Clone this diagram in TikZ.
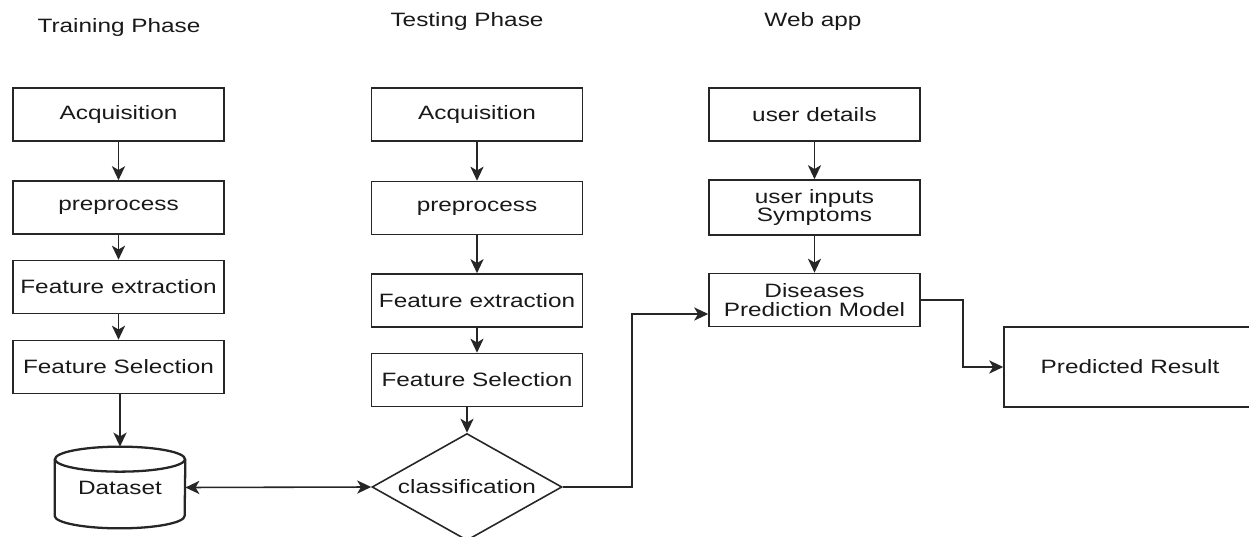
\documentclass[tikz,border=0pt]{standalone}
\usepackage{fontspec}
\setmainfont{Liberation Sans}[FakeStretch=1.26]
\usetikzlibrary{shapes.geometric,arrows.meta,calc}
\tikzset{
  lbl/.style={font=\fontsize{11}{10.8}\selectfont, align=center, text=black!90},
  box/.style={lbl, draw=black!85, line width=0.9pt, minimum width=4.22cm, minimum height=1.06cm, inner sep=0pt},
  title/.style={lbl},
  tip/.style={Stealth[length=8pt,width=7.5pt,inset=2.2pt]},
  arr/.style={draw=black!85, line width=0.9pt, -{Stealth[length=8pt,width=7.5pt,inset=2.2pt]}},
  darr/.style={draw=black!85, line width=0.9pt, {Stealth[length=8pt,width=7.5pt,inset=2.2pt]}-{Stealth[length=8pt,width=7.5pt,inset=2.2pt]}},
  line/.style={draw=black!85, line width=0.9pt}
}
\begin{document}
\begin{tikzpicture}[x=0.02cm, y=-0.02cm]
\useasboundingbox (0,0) rectangle (1249,537);
% titles
\node[title] (t1) at (119,28) {Training Phase};
\node[title] (t2) at (467,22) {Testing Phase};
\node[title] (t3) at (813,22) {Web app};
% training column
\node[box] (a1) at (118.5,114.5) {Acquisition};
\node[box] (p1) at (118.5,207.5) {preprocess};
\node[box] (fe1) at (118.5,287) {Feature extraction};
\node[box] (fs1) at (118.5,367) {Feature Selection};
\node[lbl, minimum width=2.6cm, minimum height=1.62cm, inner sep=0pt] (ds) at (120,487.5) {Dataset};
\draw[line, line width=1.3pt] ([yshift=-0.25cm]ds.north west) -- ([yshift=0.25cm]ds.south west)
  arc[start angle=180, end angle=360, x radius=1.3cm, y radius=0.25cm]
  -- ([yshift=-0.25cm]ds.north east);
\draw[line, line width=1.3pt] ([yshift=-0.25cm]ds.north) ellipse[x radius=1.3cm, y radius=0.25cm];
% testing column
\node[box] (a2) at (477,114.5) {Acquisition};
\node[box] (p2) at (477,208) {preprocess};
\node[box] (fe2) at (477,300.5) {Feature extraction};
\node[box] (fs2) at (477,380) {Feature Selection};
\node[lbl, diamond, aspect=1.78, draw=black!85, line width=0.9pt, minimum width=3.8cm, minimum height=2.14cm, inner sep=0pt] (cl) at (467,487) {classification};
% web app column
\node[box] (u1) at (814.5,114.5) {user details};
\node[box, minimum height=1.1cm] (u2) at (814.5,207.5) {user inputs\\Symptoms};
\node[box] (dpm) at (814.5,300) {Diseases\\Prediction Model};
\node[box, minimum width=5.04cm, minimum height=1.6cm] (pr) at (1130,367) {Predicted Result};
% connectors
\draw[arr] (a1) -- (p1);
\draw[arr] (p1) -- (fe1);
\draw[arr] (fe1) -- (fs1);
\draw[arr] (fs1.south -| ds.north) -- (ds.north);
\draw[arr] (a2) -- (p2);
\draw[arr] (p2) -- (fe2);
\draw[arr] (fe2) -- (fs2);
\draw[arr] (fs2.south -| cl.north) -- (cl.north);
\draw[darr] (ds.east) -- (cl.west);
\draw[arr] (u1) -- (u2);
\draw[arr] (u2) -- (dpm);
\draw[arr] (cl.east) -- ++(69,0) |- ([yshift=-0.28cm]dpm.west);
\draw[arr] (dpm.east) -- ++(42,0) |- (pr.west);
\end{tikzpicture}
\end{document}
